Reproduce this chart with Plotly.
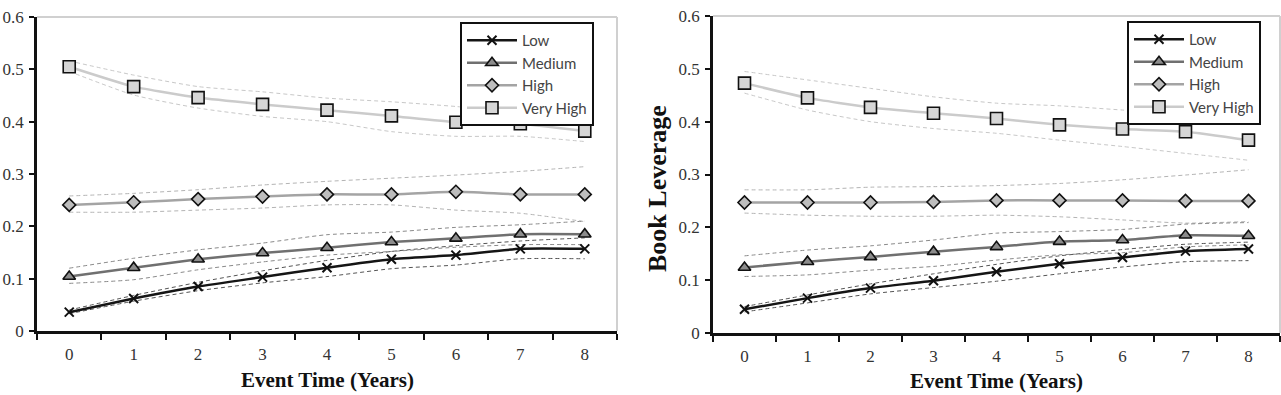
import plotly.graph_objects as go

# ---------------- data ----------------
event_time = ["0", "1", "2", "3", "4", "5", "6", "7", "8"]
series_names = ["Low", "Medium", "High", "Very High"]

# Left panel (market leverage)
left_low = [0.036, 0.062, 0.085, 0.103, 0.121, 0.137, 0.145, 0.157, 0.157]
left_low_hi = [0.040, 0.068, 0.093, 0.115, 0.135, 0.152, 0.163, 0.172, 0.178]
left_low_lo = [0.033, 0.057, 0.077, 0.092, 0.104, 0.119, 0.126, 0.138, 0.138]

left_med = [0.104, 0.121, 0.137, 0.149, 0.159, 0.170, 0.177, 0.185, 0.185]
left_med_hi = [0.120, 0.139, 0.155, 0.168, 0.184, 0.189, 0.198, 0.203, 0.210]
left_med_lo = [0.091, 0.098, 0.117, 0.132, 0.145, 0.152, 0.160, 0.165, 0.165]

left_high = [0.241, 0.246, 0.252, 0.257, 0.261, 0.261, 0.266, 0.261, 0.261]
left_high_hi = [0.258, 0.263, 0.270, 0.279, 0.286, 0.292, 0.298, 0.305, 0.314]
left_high_lo = [0.227, 0.227, 0.231, 0.235, 0.241, 0.241, 0.231, 0.225, 0.209]

left_vhigh = [0.505, 0.467, 0.446, 0.433, 0.422, 0.411, 0.399, 0.396, 0.382]
left_vhigh_hi = [0.516, 0.489, 0.467, 0.457, 0.445, 0.438, 0.429, 0.417, 0.407]
left_vhigh_lo = [0.496, 0.451, 0.426, 0.410, 0.400, 0.381, 0.372, 0.372, 0.362]

# Right panel (book leverage)
right_low = [0.045, 0.066, 0.085, 0.099, 0.116, 0.131, 0.143, 0.155, 0.159]
right_low_hi = [0.050, 0.072, 0.093, 0.112, 0.130, 0.146, 0.158, 0.168, 0.172]
right_low_lo = [0.040, 0.057, 0.074, 0.086, 0.098, 0.112, 0.125, 0.135, 0.137]

right_med = [0.124, 0.135, 0.144, 0.154, 0.163, 0.173, 0.176, 0.185, 0.184]
right_med_hi = [0.146, 0.157, 0.165, 0.176, 0.189, 0.192, 0.196, 0.206, 0.209]
right_med_lo = [0.107, 0.110, 0.119, 0.126, 0.138, 0.148, 0.152, 0.163, 0.167]

right_high = [0.247, 0.247, 0.247, 0.248, 0.251, 0.251, 0.251, 0.250, 0.250]
right_high_hi = [0.271, 0.271, 0.276, 0.277, 0.279, 0.283, 0.290, 0.299, 0.309]
right_high_lo = [0.227, 0.223, 0.221, 0.221, 0.223, 0.220, 0.214, 0.208, 0.211]

right_vhigh = [0.473, 0.445, 0.427, 0.416, 0.406, 0.394, 0.386, 0.381, 0.365]
right_vhigh_hi = [0.495, 0.479, 0.463, 0.447, 0.435, 0.430, 0.422, 0.413, 0.406]
right_vhigh_lo = [0.454, 0.422, 0.400, 0.387, 0.378, 0.365, 0.353, 0.340, 0.327]

y_ticks = [0, 0.1, 0.2, 0.3, 0.4, 0.5, 0.6]
x_title = "Event Time (Years)"
y_title_right = "Book Leverage"

# ---------------- styles ----------------
line_colors = {"Low": "#151515", "Medium": "#707070", "High": "#a4a4a4", "Very High": "#cbcbcb"}
band_colors = {"Low": "#555555", "Medium": "#8a8a8a", "High": "#b4b4b4", "Very High": "#c8c8c8"}
markers = {
    "Low": dict(symbol="x-thin-open", size=9, color="#111111", line=dict(width=2, color="#111111")),
    "Medium": dict(symbol="triangle-up", size=11, color="#8c8c8c", line=dict(width=1.6, color="#111111")),
    "High": dict(symbol="diamond", size=10, color="#bdbdbd", line=dict(width=1.6, color="#111111")),
    "Very High": dict(symbol="square", size=12, color="#d6d6d6", line=dict(width=1.6, color="#111111")),
}

panels = [
    dict(xa="x", ya="y", legend="legend", data={
        "Low": (left_low, left_low_hi, left_low_lo),
        "Medium": (left_med, left_med_hi, left_med_lo),
        "High": (left_high, left_high_hi, left_high_lo),
        "Very High": (left_vhigh, left_vhigh_hi, left_vhigh_lo),
    }),
    dict(xa="x2", ya="y2", legend="legend2", data={
        "Low": (right_low, right_low_hi, right_low_lo),
        "Medium": (right_med, right_med_hi, right_med_lo),
        "High": (right_high, right_high_hi, right_high_lo),
        "Very High": (right_vhigh, right_vhigh_hi, right_vhigh_lo),
    }),
]

fig = go.Figure()
for p in panels:
    # confidence bands first
    for name in series_names[::-1]:
        mean, hi, lo = p["data"][name]
        for band in (hi, lo):
            fig.add_trace(go.Scatter(
                x=event_time, y=band, mode="lines", xaxis=p["xa"], yaxis=p["ya"],
                line=dict(color=band_colors[name], width=1, dash="4px,3px", shape="spline", smoothing=0.6),
                showlegend=False, hoverinfo="skip"))
    for name in series_names[::-1]:
        mean, hi, lo = p["data"][name]
        fig.add_trace(go.Scatter(
            x=event_time, y=mean, mode="lines+markers", name=name, xaxis=p["xa"], yaxis=p["ya"],
            line=dict(color=line_colors[name], width=2.5, shape="spline", smoothing=0.5),
            marker=markers[name], legend=p["legend"], legendrank=series_names.index(name)))

W, H = 1281, 395
serif = "Liberation Serif"


def xdom(a, b):
    return [a / W, b / W]


def ydom(top, bottom):
    return [1 - bottom / H, 1 - top / H]


xcommon = dict(type="category", range=[-0.5, 8.5], tickson="boundaries", ticks="outside",
               ticklen=6, tickwidth=2, tickcolor="#111", showline=True, linecolor="#111",
               linewidth=2.5, showgrid=False, zeroline=False, automargin=False,
               tickfont=dict(family=serif, size=17, color="#333"), ticklabelstandoff=6)
ycommon = dict(range=[0, 0.6], tickvals=y_ticks, ticktext=[f"{v:g}" for v in y_ticks],
               ticks="outside", ticklen=5, tickwidth=2, tickcolor="#111", showline=True,
               linecolor="#111", linewidth=2.5, showgrid=False, zeroline=False, automargin=False,
               tickfont=dict(family=serif, size=17, color="#333"), ticklabelstandoff=2)

legend_common = dict(font=dict(family="Lato", size=15, color="#444"),
                     bgcolor="white", bordercolor="#111", borderwidth=2,
                     xanchor="left", yanchor="top", tracegroupgap=0, itemwidth=50)

fig.update_layout(
    template="none",
    width=W, height=H, margin=dict(l=0, r=0, t=0, b=0, pad=0), autosize=False,
    paper_bgcolor="white", plot_bgcolor="white",
    xaxis=dict(domain=xdom(37, 617), anchor="y", **xcommon),
    yaxis=dict(domain=ydom(17, 331), anchor="x", **ycommon),
    xaxis2=dict(domain=xdom(713, 1280), anchor="y2", **xcommon),
    yaxis2=dict(domain=ydom(16, 333), anchor="x2", **ycommon),
    legend=dict(x=460 / W, y=1 - 22 / H, **legend_common),
    legend2=dict(x=1127 / W, y=1 - 21 / H, **legend_common),
    shapes=[
        dict(type="line", xref="x domain", yref="y domain", x0=0, x1=1, y0=1, y1=1,
             line=dict(color="#d0d0d0", width=2)),
        dict(type="line", xref="x domain", yref="y domain", x0=1, x1=1, y0=0, y1=1,
             line=dict(color="#d0d0d0", width=2)),
        dict(type="line", xref="x2 domain", yref="y2 domain", x0=0, x1=1, y0=1, y1=1,
             line=dict(color="#d0d0d0", width=2)),
        dict(type="line", xref="x2 domain", yref="y2 domain", x0=1, x1=1, y0=0, y1=1,
             line=dict(color="#d0d0d0", width=2)),
    ],
    annotations=[
        dict(text=f"<b>{x_title}</b>", xref="paper", yref="paper", x=327 / W, y=1 - 380 / H,
             showarrow=False, xanchor="center", yanchor="middle",
             font=dict(family=serif, size=21, color="#111")),
        dict(text=f"<b>{x_title}</b>", xref="paper", yref="paper", x=996 / W, y=1 - 381 / H,
             showarrow=False, xanchor="center", yanchor="middle",
             font=dict(family=serif, size=21, color="#111")),
        dict(text=f"<b>{y_title_right}</b>", xref="paper", yref="paper", x=657 / W, y=1 - 189 / H,
             showarrow=False, xanchor="center", yanchor="middle", textangle=-90,
             font=dict(family=serif, size=26, color="#111")),
    ],
)

fig.write_html("out.html")
